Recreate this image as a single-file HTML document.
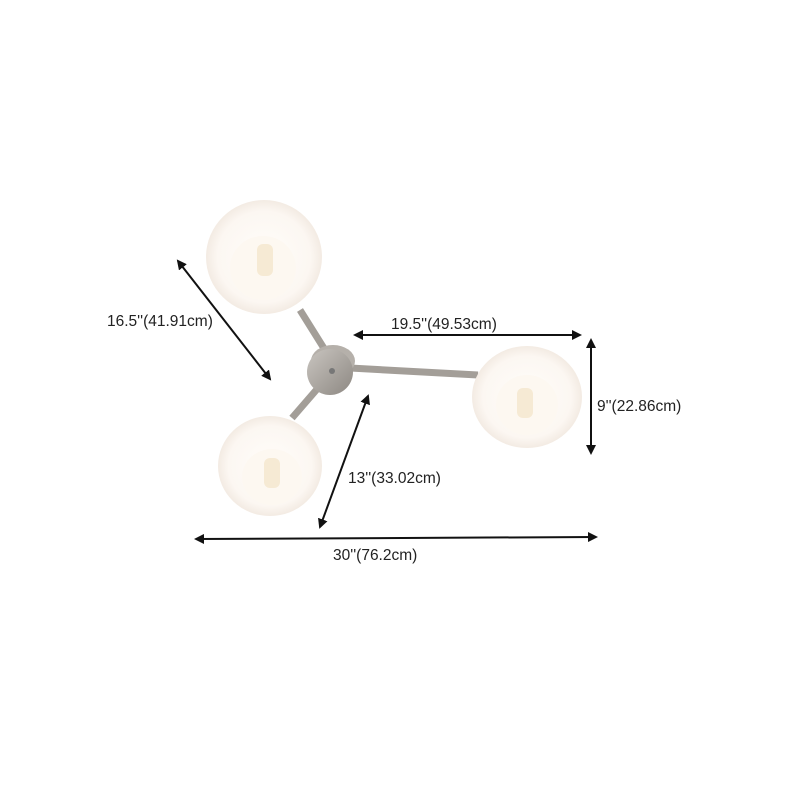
<!DOCTYPE html><html><head><style>body{margin:0;background:#fff}</style></head><body>
<svg width="800" height="800" xmlns="http://www.w3.org/2000/svg" font-family="Liberation Sans, sans-serif" font-size="15.5" fill="#222">
<defs>
<marker id="a" markerWidth="10" markerHeight="10" refX="8" refY="5" orient="auto-start-reverse" markerUnits="userSpaceOnUse"><path d="M0,0 L10,5 L0,10 z" fill="#111"/></marker>
<radialGradient id="g" cx="50%" cy="50%" r="50%"><stop offset="0" stop-color="#fffdfa"/><stop offset="0.8" stop-color="#fcf7f2"/><stop offset="1" stop-color="#f3ebe3"/></radialGradient>
<linearGradient id="m" x1="0" y1="0" x2="1" y2="1"><stop offset="0" stop-color="#c9c5c0"/><stop offset="1" stop-color="#8d8882"/></linearGradient>
</defs>
<line x1="300" y1="310" x2="325" y2="350" stroke="#a39e98" stroke-width="7"/>
<line x1="292" y1="418" x2="318" y2="388" stroke="#a39e98" stroke-width="7"/>
<line x1="350" y1="368" x2="478" y2="375" stroke="#a39e98" stroke-width="7"/>
<ellipse cx="333" cy="361" rx="22" ry="16" fill="#b5b0aa"/>
<circle cx="330" cy="372" r="23" fill="url(#m)"/>
<circle cx="332" cy="371" r="3" fill="#777"/>
<g><ellipse cx="264" cy="257" rx="58" ry="57" fill="url(#g)"/><ellipse cx="263" cy="268" rx="33" ry="32" fill="#fdf8f1"/><rect x="257" y="244" width="16" height="32" rx="6" fill="#f6ead4"/></g>
<g><ellipse cx="270" cy="466" rx="52" ry="50" fill="url(#g)"/><ellipse cx="272" cy="477" rx="30" ry="28" fill="#fdf8f1"/><rect x="264" y="458" width="16" height="30" rx="6" fill="#f6ead4"/></g>
<g><ellipse cx="527" cy="397" rx="55" ry="51" fill="url(#g)"/><ellipse cx="527" cy="405" rx="31" ry="30" fill="#fdf8f1"/><rect x="517" y="388" width="16" height="30" rx="6" fill="#f6ead4"/></g>
<g stroke="#111" stroke-width="2" marker-start="url(#a)" marker-end="url(#a)">
<line x1="178" y1="261" x2="270" y2="379"/>
<line x1="355" y1="335" x2="580" y2="335"/>
<line x1="591" y1="340" x2="591" y2="453"/>
<line x1="368" y1="396" x2="320" y2="527"/>
<line x1="196" y1="539" x2="596" y2="537"/>
</g>
<text x="107" y="326">16.5''(41.91cm)</text>
<text x="391" y="329">19.5''(49.53cm)</text>
<text x="597" y="411">9''(22.86cm)</text>
<text x="348" y="483">13''(33.02cm)</text>
<text x="333" y="560">30''(76.2cm)</text>
</svg>
</body></html>
